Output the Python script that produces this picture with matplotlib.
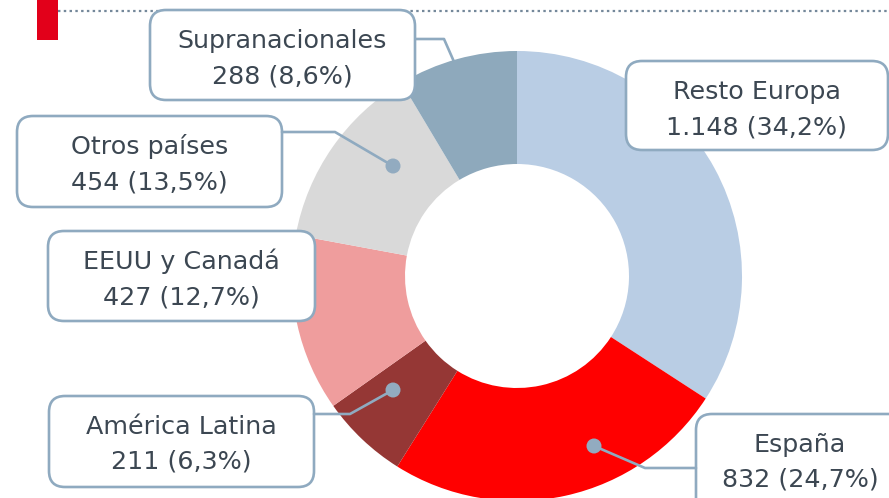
import matplotlib
matplotlib.use("Agg")
import matplotlib.pyplot as plt
from matplotlib.patches import FancyBboxPatch, Circle, Rectangle

# Distribution by region
regions = ["Resto Europa", "España", "América Latina", "EEUU y Canadá",
           "Otros países", "Supranacionales"]
values = [1148, 832, 211, 427, 454, 288]
value_labels = ["1.148", "832", "211", "427", "454", "288"]
pct_labels = ["34,2%", "24,7%", "6,3%", "12,7%", "13,5%", "8,6%"]
colors = ["#B9CDE4", "#FF0000", "#953735", "#EF9D9D", "#D9D9D9", "#8EA9BC"]

W, H = 889, 498
TEXT = "#3C4752"
EDGE = "#8FAAC0"
FONT = "DejaVu Sans"

fig = plt.figure(figsize=(W / 100, H / 100), dpi=100)
ax = fig.add_axes([0, 0, 1, 1])

# Donut: y axis is flipped below, so a data start of -90 deg counterclockwise
# reads as starting at twelve o'clock and running clockwise on screen.
cx, cy, R = 517, 276, 225
ax.pie(values, colors=colors, startangle=-90, counterclock=True,
       radius=R, center=(cx, cy),
       wedgeprops=dict(width=113, linewidth=0, zorder=2))

ax.set_xlim(0, W)
ax.set_ylim(H, 0)
ax.set_aspect("equal")
ax.axis("off")

# Header accents
ax.add_patch(Rectangle((37, 0), 21, 40, facecolor="#E2001A", edgecolor="none", zorder=1))
ax.plot([58, W], [11, 11], color="#74889A", lw=1.6, linestyle=(0, (1.1, 1.5)),
        solid_capstyle="butt", dash_capstyle="butt", zorder=1)

# Label boxes: (x0, y0, x1, y1) for each region, same order as above
boxes = [
    (626, 61, 888, 150),
    (696, 414, 905, 520),
    (49, 396, 314, 487),
    (48, 231, 315, 321),
    (17, 116, 282, 207),
    (150, 10, 415, 100),
]

# Leader lines: polyline points, whether a dot ends the line, zorder
leaders = {
    "España": ([(696, 468), (645, 468), (594, 446)], True, 5),
    "América Latina": ([(314, 414), (350, 414), (393, 390)], True, 5),
    "Otros países": ([(282, 132), (335, 132), (393, 166)], True, 5),
    "Supranacionales": ([(415, 39), (444, 39), (455, 64)], False, 1),
}

for name, (pts, dot, z) in leaders.items():
    xs, ys = zip(*pts)
    ax.plot(xs, ys, color=EDGE, lw=1.9, zorder=z, solid_capstyle="round")
    if dot:
        ax.add_patch(Circle(pts[-1], 7.5, facecolor="#92ABC0", edgecolor="none", zorder=z + 1))

for name, vl, pl, (x0, y0, x1, y1) in zip(regions, value_labels, pct_labels, boxes):
    ax.add_patch(FancyBboxPatch((x0, y0), x1 - x0, y1 - y0,
                                boxstyle="round,pad=0,rounding_size=16",
                                facecolor="white", edgecolor=EDGE, lw=1.9, zorder=4))
    xc = (x0 + x1) / 2 if name != "España" else 800
    ax.text(xc, y0 + 38, name, ha="center", va="baseline", fontsize=18.3,
            color=TEXT, family=FONT, zorder=6)
    ax.text(xc, y0 + 73, f"{vl} ({pl})", ha="center", va="baseline", fontsize=18.3,
            color=TEXT, family=FONT, zorder=6)

fig.savefig("out.png", dpi=100)
